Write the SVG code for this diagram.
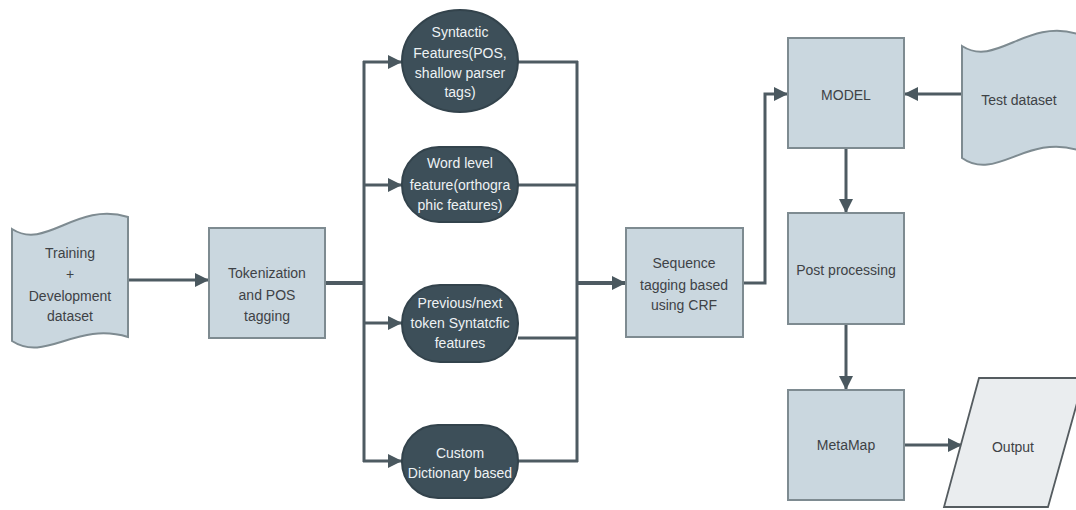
<svg xmlns="http://www.w3.org/2000/svg" width="1076" height="510" viewBox="0 0 1076 510">
<defs>
<marker id="arr" markerUnits="userSpaceOnUse" markerWidth="15" markerHeight="15" refX="14" refY="7" orient="auto">
<path d="M0,0 L14,7 L0,14 Z" fill="#4a585f"/>
</marker>
<style>
.box{fill:#cad7df;stroke:#7e8b91;stroke-width:2}
.dark{fill:#3d4f59;stroke:#33434c;stroke-width:2}
.out{fill:#eaedef;stroke:#555c60;stroke-width:1.8}
.t{font-family:"Liberation Sans",Arial,sans-serif;font-size:14px;fill:#3e4246;text-anchor:middle}
.w{font-family:"Liberation Sans",Arial,sans-serif;font-size:14px;fill:#eef2f4;text-anchor:middle}
.c{fill:none;stroke:#4e5b62;stroke-width:3}
.ca{fill:none;stroke:#4e5b62;stroke-width:3;marker-end:url(#arr)}
</style>
</defs>
<rect width="1076" height="510" fill="#ffffff"/>
<g id="connectors">
<line class="ca" x1="128" y1="280" x2="209" y2="280"/>
<line class="c" x1="325" y1="283" x2="365" y2="283" style="stroke-width:4"/>
<line class="c" x1="364" y1="61" x2="364" y2="462"/>
<line class="ca" x1="363" y1="62" x2="402" y2="62"/>
<line class="ca" x1="363" y1="185" x2="402" y2="185"/>
<line class="ca" x1="363" y1="323" x2="402" y2="323"/>
<line class="ca" x1="363" y1="461" x2="402" y2="461"/>
<line class="c" x1="518" y1="62" x2="578" y2="62"/>
<line class="c" x1="518" y1="185" x2="578" y2="185"/>
<line class="c" x1="518" y1="338" x2="578" y2="338"/>
<line class="c" x1="518" y1="461" x2="578" y2="461"/>
<line class="c" x1="577" y1="61" x2="577" y2="462"/>
<line class="ca" x1="576" y1="283" x2="626" y2="283" style="stroke-width:4"/>
<polyline class="ca" points="743,283 765,283 765,94 788,94"/>
<line class="ca" x1="962" y1="94" x2="904" y2="94"/>
<line class="ca" x1="846" y1="148" x2="846" y2="213"/>
<line class="ca" x1="846" y1="324" x2="846" y2="390"/>
<line class="ca" x1="904" y1="445" x2="962" y2="445"/>
</g>
<g id="training">
<path class="box" d="M12,229 C46,251 76,201 128,217 L128,337 C76,321 46,363 12,341 Z"/>
<text class="t" x="70" y="258">Training</text>
<text class="t" x="70" y="279">+</text>
<text class="t" x="70" y="301">Development</text>
<text class="t" x="70" y="321">dataset</text>
</g>
<g id="tokenization">
<rect class="box" x="209" y="228" width="116" height="110"/>
<text class="t" x="267" y="278">Tokenization</text>
<text class="t" x="267" y="300">and POS</text>
<text class="t" x="267" y="321">tagging</text>
</g>
<g id="syntactic">
<ellipse class="dark" cx="460" cy="61" rx="58" ry="51"/>
<text class="w" x="460" y="37">Syntactic</text>
<text class="w" x="460" y="58">Features(POS,</text>
<text class="w" x="460" y="78">shallow parser</text>
<text class="w" x="460" y="97">tags)</text>
</g>
<g id="wordlevel">
<rect class="dark" x="402" y="147" width="116" height="75" rx="37"/>
<text class="w" x="460" y="168">Word level</text>
<text class="w" x="460" y="190">feature(orthogra</text>
<text class="w" x="460" y="210">phic features)</text>
</g>
<g id="prevnext">
<rect class="dark" x="402" y="285" width="116" height="77" rx="38"/>
<text class="w" x="460" y="308">Previous/next</text>
<text class="w" x="460" y="328">token Syntatcfic</text>
<text class="w" x="460" y="348">features</text>
</g>
<g id="custom">
<rect class="dark" x="402" y="425" width="116" height="73" rx="36"/>
<text class="w" x="460" y="458">Custom</text>
<text class="w" x="460" y="478">Dictionary based</text>
</g>
<g id="sequence">
<rect class="box" x="626" y="228" width="117" height="109"/>
<text class="t" x="684" y="268">Sequence</text>
<text class="t" x="684" y="290">tagging based</text>
<text class="t" x="684" y="310">using CRF</text>
</g>
<g id="model">
<rect class="box" x="788" y="38" width="116" height="110"/>
<text class="t" x="846" y="100">MODEL</text>
</g>
<g id="testdataset">
<path class="box" d="M962,46 C996,68 1026,18 1078,34 L1078,150 C1026,134 996,182 962,158 Z"/>
<text class="t" x="1019" y="105">Test dataset</text>
</g>
<g id="postprocessing">
<rect class="box" x="788" y="213" width="116" height="111"/>
<text class="t" x="846" y="275">Post processing</text>
</g>
<g id="metamap">
<rect class="box" x="788" y="390" width="116" height="110"/>
<text class="t" x="846" y="450">MetaMap</text>
</g>
<g id="output">
<polygon class="out" points="979,378 1084,378 1048,507 944,507"/>
<text class="t" x="1013" y="452">Output</text>
</g>
</svg>
